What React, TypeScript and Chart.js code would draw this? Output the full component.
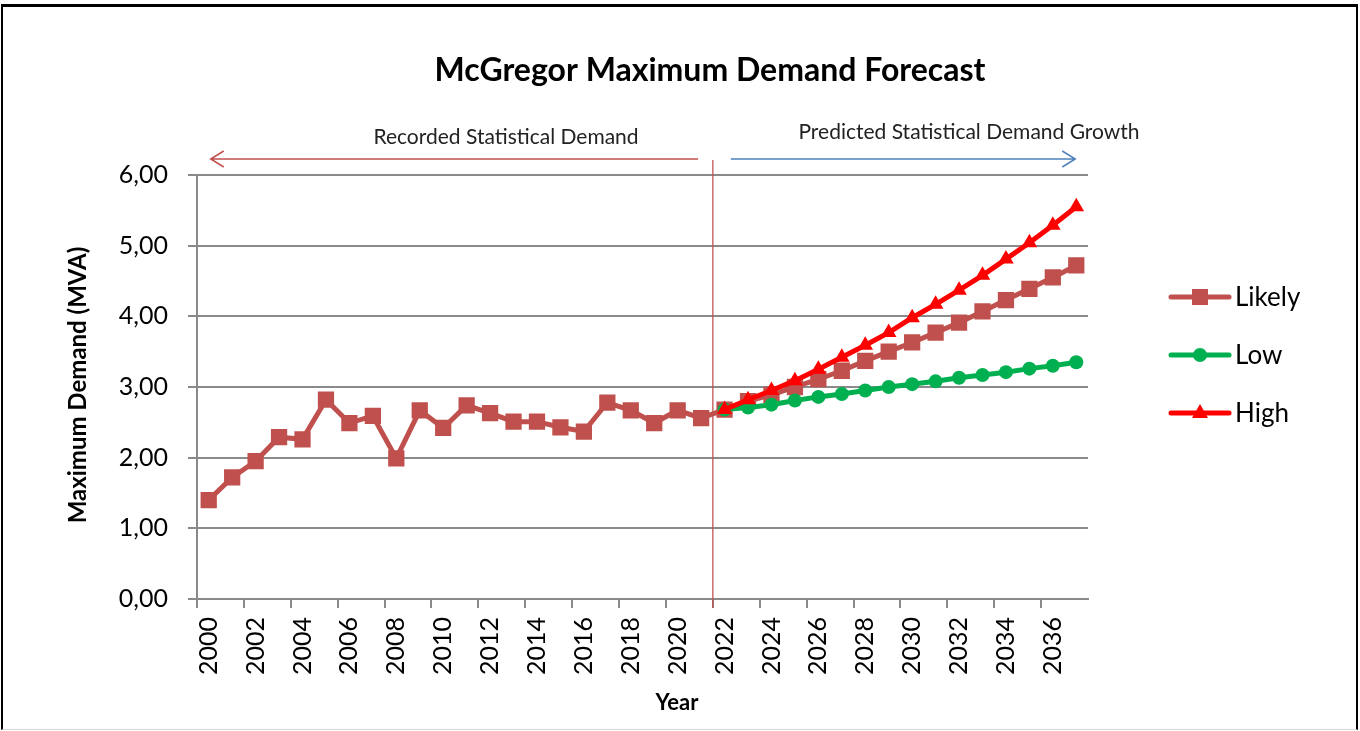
import React, { useEffect, useRef } from "react";
import { Chart, registerables } from "chart.js";

Chart.register(...registerables);

const years = [
  "2000", "2001", "2002", "2003", "2004", "2005", "2006", "2007", "2008", "2009",
  "2010", "2011", "2012", "2013", "2014", "2015", "2016", "2017", "2018", "2019",
  "2020", "2021", "2022", "2023", "2024", "2025", "2026", "2027", "2028", "2029",
  "2030", "2031", "2032", "2033", "2034", "2035", "2036", "2037",
];

const likely = [
  1.40, 1.72, 1.95, 2.29, 2.26, 2.82, 2.49, 2.59, 1.99, 2.67,
  2.42, 2.74, 2.63, 2.51, 2.51, 2.43, 2.37, 2.78, 2.67, 2.49,
  2.67, 2.56, 2.68, 2.80, 2.89, 3.00, 3.11, 3.23, 3.37, 3.50,
  3.63, 3.77, 3.91, 4.07, 4.23, 4.39, 4.55, 4.72,
];

const low = [
  null, null, null, null, null, null, null, null, null, null,
  null, null, null, null, null, null, null, null, null, null,
  null, null, 2.68, 2.71, 2.75, 2.81, 2.86, 2.90, 2.95, 3.00,
  3.04, 3.08, 3.13, 3.17, 3.21, 3.26, 3.30, 3.35,
];

const high = [
  null, null, null, null, null, null, null, null, null, null,
  null, null, null, null, null, null, null, null, null, null,
  null, null, 2.68, 2.82, 2.95, 3.09, 3.25, 3.42, 3.59, 3.77,
  3.98, 4.17, 4.37, 4.58, 4.81, 5.04, 5.29, 5.55,
];

const seriesNames = ["Likely", "Low", "High"];
const seriesColors = ["#C0504D", "#00B050", "#FF0000"];
const seriesMarkers = ["rect", "circle", "triangle"];

const chartTitle = "McGregor Maximum Demand Forecast";
const leftNote = "Recorded Statistical Demand";
const rightNote = "Predicted Statistical Demand Growth";
const yTitle = "Maximum Demand (MVA)";
const xTitle = "Year";
const lastRecordedIndex = 21;

const FONT = 'Lato, "Open Sans", sans-serif';
const GRID = "#8A8A8A";

function drawMarker(ctx: CanvasRenderingContext2D, style: string, x: number, y: number, color: string) {
  ctx.fillStyle = color;
  ctx.beginPath();
  if (style === "rect") {
    ctx.rect(x - 8, y - 8, 16, 16);
  } else if (style === "circle") {
    ctx.arc(x, y, 7, 0, Math.PI * 2);
  } else {
    ctx.moveTo(x, y - 9);
    ctx.lineTo(x + 8, y + 5);
    ctx.lineTo(x - 8, y + 5);
    ctx.closePath();
  }
  ctx.fill();
}

const decorPlugin = {
  id: "decor",
  afterDraw(chart: any) {
    const { ctx, chartArea, scales } = chart;
    const xs = scales.x;
    const px = (i: number) => xs.getPixelForValue(i);
    ctx.save();

    // divider line between recorded and predicted
    const divX = (px(lastRecordedIndex) + px(lastRecordedIndex + 1)) / 2;
    ctx.strokeStyle = "rgba(192,80,77,0.85)";
    ctx.lineWidth = 1.5;
    ctx.beginPath();
    ctx.moveTo(divX, chartArea.top - 15);
    ctx.lineTo(divX, chartArea.bottom + 9);
    ctx.stroke();

    // arrows
    const ay = chartArea.top - 16;
    const redL = px(0) + 2;
    const redR = px(lastRecordedIndex) - 3;
    ctx.strokeStyle = "#C0504D";
    ctx.lineWidth = 1.5;
    ctx.beginPath();
    ctx.moveTo(redR, ay);
    ctx.lineTo(redL, ay);
    ctx.moveTo(redL + 13, ay - 8);
    ctx.lineTo(redL, ay);
    ctx.lineTo(redL + 13, ay + 8);
    ctx.stroke();

    const blueL = divX + 18;
    const blueR = px(years.length - 1) - 1;
    ctx.strokeStyle = "#4F81BD";
    ctx.beginPath();
    ctx.moveTo(blueL, ay);
    ctx.lineTo(blueR, ay);
    ctx.moveTo(blueR - 13, ay - 8);
    ctx.lineTo(blueR, ay);
    ctx.lineTo(blueR - 13, ay + 8);
    ctx.stroke();

    // notes
    ctx.fillStyle = "#222";
    ctx.textAlign = "center";
    ctx.textBaseline = "middle";
    ctx.font = `21px ${FONT}`;
    ctx.fillText(leftNote, 506, 137);
    ctx.fillText(rightNote, 969, 132);

    // title
    ctx.fillStyle = "#000";
    ctx.font = `bold 32px ${FONT}`;
    ctx.fillText(chartTitle, 710, 71);

    // axis titles
    ctx.font = `bold 22px ${FONT}`;
    ctx.fillText(xTitle, 677, 703);
    ctx.font = `bold 24px ${FONT}`;
    ctx.save();
    ctx.translate(78, (chartArea.top + chartArea.bottom) / 2 - 2);
    ctx.rotate(-Math.PI / 2);
    ctx.fillText(yTitle, 0, 0);
    ctx.restore();

    // legend
    const legendY = [297, 355, 413];
    ctx.font = `26px ${FONT}`;
    ctx.textAlign = "left";
    for (let i = 0; i < seriesNames.length; i++) {
      const y = legendY[i];
      ctx.strokeStyle = seriesColors[i];
      ctx.lineWidth = 5;
      ctx.lineCap = "round";
      ctx.beginPath();
      ctx.moveTo(1171, y);
      ctx.lineTo(1229, y);
      ctx.stroke();
      drawMarker(ctx, seriesMarkers[i], 1200, y, seriesColors[i]);
      ctx.fillStyle = "#000";
      ctx.fillText(seriesNames[i], 1235, y + 1);
    }
    ctx.restore();
  },
};

export default function App() {
  const canvasRef = useRef<HTMLCanvasElement | null>(null);

  useEffect(() => {
    document.body.style.margin = "0";
    document.body.style.overflow = "hidden";
    const canvas = canvasRef.current;
    if (!canvas) return;
    const seriesData = [likely, low, high];
    const chart = new Chart(canvas, {
      type: "line",
      data: {
        labels: years,
        datasets: seriesNames.map((name, i) => ({
          label: name,
          data: seriesData[i],
          borderColor: seriesColors[i],
          backgroundColor: seriesColors[i],
          borderWidth: 5,
          pointStyle: seriesMarkers[i] as any,
          pointRadius: i === 0 ? 11.5 : i === 1 ? 7 : 9,
          pointBorderWidth: 0,
          pointBackgroundColor: seriesColors[i],
          tension: 0,
          order: i === 0 ? 2 : i === 1 ? 1 : 0,
        })),
      },
      options: {
        responsive: false,
        animation: false,
        devicePixelRatio: 1,
        layout: { padding: { left: 0, top: 175, right: 272, bottom: 0 } },
        plugins: {
          legend: { display: false },
          title: { display: false },
          tooltip: { enabled: false },
        },
        scales: {
          x: {
            type: "category",
            offset: true,
            afterFit: (s: any) => { s.height = 132; },
            border: { display: true, color: GRID, width: 2 },
            grid: {
              offset: true,
              drawOnChartArea: false,
              drawTicks: true,
              tickLength: 9,
              lineWidth: 2,
              color: (c: any) => (c.index % 2 === 0 ? GRID : "rgba(0,0,0,0)"),
            },
            ticks: {
              autoSkip: false,
              maxRotation: 90,
              minRotation: 90,
              padding: 9,
              color: "#000",
              font: { family: FONT, size: 25 },
              callback: (_v: any, i: number) => (i % 2 === 0 ? years[i] : ""),
            },
          },
          y: {
            min: 0,
            max: 6,
            afterFit: (s: any) => { s.width = 197; },
            border: { display: true, color: GRID, width: 2 },
            grid: { color: GRID, lineWidth: 2, tickLength: 9 },
            ticks: {
              stepSize: 1,
              padding: 20,
              color: "#000",
              font: { family: FONT, size: 25 },
              callback: (v: any) => Number(v).toFixed(2).replace(".", ","),
            },
          },
        },
      },
      plugins: [decorPlugin],
    });
    return () => chart.destroy();
  }, []);

  return (
    <div style={{ position: "relative", width: 1360, height: 731, background: "#fff" }}>
      <canvas ref={canvasRef} width={1360} height={731} style={{ display: "block" }} />
      <div
        style={{
          position: "absolute",
          left: 1,
          top: 4,
          width: 1357,
          height: 726,
          boxSizing: "border-box",
          borderTop: "3px solid #000",
          borderLeft: "2px solid #000",
          borderRight: "2px solid #000",
          borderBottom: "1px solid #d8d8d8",
          pointerEvents: "none",
        }}
      />
    </div>
  );
}
